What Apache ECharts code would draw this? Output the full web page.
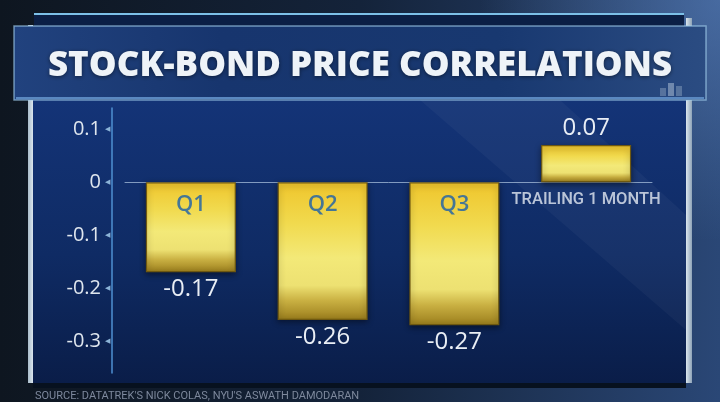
<!DOCTYPE html>
<html><head><meta charset="utf-8">
<script src="https://cdn.jsdelivr.net/npm/echarts@6/dist/echarts.min.js"></script>
<style>html,body{margin:0;padding:0;background:#0f1721}#c{width:720px;height:402px}</style>
</head><body><div id="c"></div><script>
const categories = ['Q1', 'Q2', 'Q3', 'TRAILING 1 MONTH'];
const values = [-0.17, -0.26, -0.27, 0.07];
const yTicks = [-0.3, -0.2, -0.1, 0, 0.1];
const titleText = 'STOCK-BOND PRICE CORRELATIONS';
const sourceText = "SOURCE: DATATREK'S NICK COLAS, NYU'S ASWATH DAMODARAN";

const chart = echarts.init(document.getElementById('c'));
const G = echarts.graphic;

const goldGrad = new G.LinearGradient(0, 0, 0, 1, [
  { offset: 0, color: '#efc52c' },
  { offset: 0.3, color: '#f1da4e' },
  { offset: 0.55, color: '#f3e978' },
  { offset: 0.75, color: '#ede172' },
  { offset: 0.86, color: '#c9b042' },
  { offset: 1, color: '#9a7d1c' }
]);

const bg = [
  { type: 'rect', z: -100, shape: { x: 0, y: 0, width: 720, height: 402 },
    style: { fill: new G.LinearGradient(0, 0, 1, 0, [
      { offset: 0, color: '#0e1620' }, { offset: 0.5, color: '#14233a' }, { offset: 1, color: '#2a4776' }]) } },
  { type: 'rect', z: -99, shape: { x: 0, y: 0, width: 720, height: 402 },
    style: { fill: new G.RadialGradient(1, 0, 0.6, [
      { offset: 0, color: 'rgba(95,135,195,0.55)' }, { offset: 1, color: 'rgba(95,135,195,0)' }]) } },
  { type: 'rect', z: -98, shape: { x: 33, y: 95, width: 653, height: 290 },
    style: { fill: new G.LinearGradient(0, 0, 0, 1, [
      { offset: 0, color: '#143478' }, { offset: 0.55, color: '#0f2b64' }, { offset: 1, color: '#0a1d48' }]) } },
  { type: 'polygon', z: -97, shape: { points: [[420, 100], [560, 100], [686, 215], [686, 330]] },
    style: { fill: 'rgba(255,255,255,0.035)' } },
  { type: 'rect', z: -96, shape: { x: 33, y: 383, width: 653, height: 5 }, style: { fill: '#07111f' } },
  { type: 'rect', z: -95, shape: { x: 28, y: 25, width: 5, height: 358 },
    style: { fill: new G.LinearGradient(0, 0, 1, 0, [
      { offset: 0, color: '#a9bccb' }, { offset: 1, color: '#dbe6ee' }]) } },
  { type: 'rect', z: -95, shape: { x: 686, y: 18, width: 6, height: 365 },
    style: { fill: new G.LinearGradient(0, 0, 1, 0, [
      { offset: 0, color: '#dbe6ee' }, { offset: 1, color: '#8fa4b8' }]) } },
  { type: 'rect', z: -94, shape: { x: 34, y: 13, width: 650, height: 14 }, style: { fill: '#0b1f45' } },
  { type: 'rect', z: -93, shape: { x: 34, y: 13, width: 650, height: 2 }, style: { fill: '#7cc0e8' } },
  { type: 'rect', z: -92, shape: { x: 14, y: 26, width: 692, height: 74 },
    style: { fill: new G.LinearGradient(0, 0, 1, 0, [
      { offset: 0, color: '#21427e' }, { offset: 0.3, color: '#17356e' }, { offset: 0.7, color: '#183870' }, { offset: 1, color: '#2b4c82' }]),
      stroke: 'rgba(160,205,235,0.65)', lineWidth: 1.5 } },
  { type: 'rect', z: -91, shape: { x: 16, y: 97, width: 688, height: 2 }, style: { fill: '#5a88c0' } },
  { type: 'rect', z: -90, shape: { x: 660, y: 88, width: 6, height: 8 }, style: { fill: 'rgba(200,215,230,0.3)' } },
  { type: 'rect', z: -90, shape: { x: 668, y: 83, width: 6, height: 13 }, style: { fill: 'rgba(200,215,230,0.45)' } },
  { type: 'rect', z: -90, shape: { x: 676, y: 86, width: 6, height: 10 }, style: { fill: 'rgba(200,215,230,0.3)' } }
];

chart.setOption({
  animation: false,
  title: [
    { text: titleText, left: 'center', top: 45, padding: 0,
      textStyle: { fontFamily: 'Open Sans', fontWeight: 800, fontSize: 35, lineHeight: 42, color: '#eef3f8',
        textShadowColor: 'rgba(0,0,0,0.5)', textShadowBlur: 4, textShadowOffsetY: 1 } },
    { text: sourceText, left: 35, top: 390, padding: 0,
      textStyle: { fontFamily: 'Roboto', fontWeight: 'normal', fontSize: 11, lineHeight: 13, color: '#7d889c' } }
  ],
  graphic: bg,
  grid: { left: 125, top: 108, width: 527, height: 265, containLabel: false },
  xAxis: {
    type: 'category', data: categories,
    axisLine: { onZero: true, lineStyle: { color: '#9fb6d4', width: 1, opacity: 0.8 } },
    axisTick: { show: false },
    axisLabel: { show: false }
  },
  yAxis: {
    type: 'value', min: -0.36, max: 0.14, offset: 13,
    axisLine: { show: true, lineStyle: { color: '#4f90d2', width: 1.5 } },
    axisTick: { show: false },
    splitLine: { show: false },
    axisLabel: {
      customValues: yTicks, margin: 2,
      formatter: v => '{v|' + (v === 0 ? '0' : v.toFixed(1)) + '}{t|◀}',
      rich: {
        v: { fontFamily: 'Open Sans', fontSize: 20, fontWeight: 500, color: '#dfe6ee' },
        t: { fontSize: 7, color: '#8cb4d8', padding: [0, 0, 0, 4] }
      }
    }
  },
  series: [{
    type: 'bar', barWidth: 90,
    data: values.map(v => ({ value: v, label: { position: v < 0 ? 'bottom' : 'top' } })),
    itemStyle: { color: goldGrad, borderColor: '#6e5810', borderWidth: 1.2,
      shadowColor: 'rgba(0,0,0,0.45)', shadowBlur: 6, shadowOffsetY: 2 },
    label: { show: true, distance: 5, formatter: p => p.value.toFixed(2),
      fontFamily: 'Open Sans', fontSize: 24, fontWeight: 500, color: '#e9eef5' }
  }, {
    type: 'scatter', z: 5, symbolSize: 2, itemStyle: { color: 'rgba(0,0,0,0)' }, silent: true,
    data: categories.map(c => [c, 0]),
    label: {
      show: true, position: 'bottom', distance: 7,
      formatter: p => p.name.charAt(0) === 'Q' ? '{q|' + p.name + '}' : '{t|' + p.name + '}',
      rich: {
        q: { fontFamily: 'Open Sans', fontSize: 22, fontWeight: 600, lineHeight: 26, color: '#1a5fab', padding: [3, 0, 0, 0] },
        t: { fontFamily: 'Roboto', fontSize: 16.5, fontWeight: 500, lineHeight: 19, color: '#e4eaf2' }
      }
    }
  }]
});
</script></body></html>
